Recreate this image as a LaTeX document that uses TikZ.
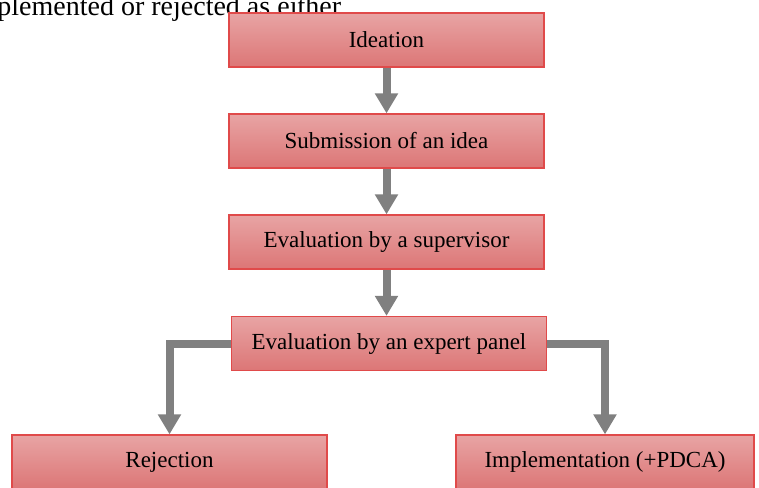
\documentclass[tikz,border=0pt]{standalone}
\usepackage{fontspec}
\setmainfont{Liberation Serif}
\usetikzlibrary{arrows.meta,positioning}

\definecolor{boxtop}{HTML}{E8A4A4}
\definecolor{boxbot}{HTML}{DC7676}
\definecolor{boxline}{HTML}{E04A4A}
\definecolor{flowgray}{HTML}{808080}

\tikzset{
    stage/.style={draw=boxline, line width=0.6pt, top color=boxtop, bottom color=boxbot,
        minimum width=157.5pt, minimum height=27pt, inner sep=0pt,
        font=\fontsize{11.5}{13}\selectfont},
    flow/.style={draw=flowgray, line width=4pt, -{Triangle[width=11pt,length=10pt]}}
}

\begin{document}
\begin{tikzpicture}[x=0.5pt, y=-0.5pt]
    \useasboundingbox (0,0) rectangle (759,487);
    %%text line above the chart
    \begin{scope}
        \clip (0,0) rectangle (759,487);
        \node[anchor=base west, inner sep=0pt, font=\fontsize{14}{16}\selectfont] (topline) at (-3,15) {plemented or rejected as either};
    \end{scope}
    %%stages
    \node[stage] (ideation) at (386.5,40) {Ideation};
    \node[stage] (submission) at (386.5,141) {Submission of an idea};
    \node[stage] (supervisor) at (386.5,242) {Evaluation by a supervisor};
    \node[stage] (panel) at (389,343.5) {Evaluation by an expert panel};
    \node[stage] (rejection) at (169.5,462) {Rejection};
    \node[stage, minimum width=149pt] (implementation) at (605,462) {Implementation (+PDCA)};
    %%arrows
    \draw[flow] (ideation.south) -- (submission.north);
    \draw[flow] (submission.south) -- (supervisor.north);
    \draw[flow] (supervisor.south) -- (supervisor.south |- panel.north);
    \draw[flow] (panel.west) -| (rejection.north);
    \draw[flow] (panel.east) -| (implementation.north);
\end{tikzpicture}
\end{document}
